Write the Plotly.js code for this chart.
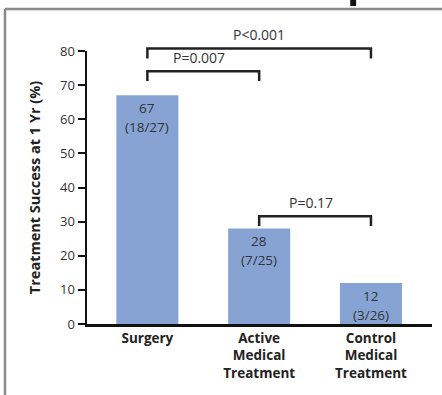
<!DOCTYPE html>
<html>
<head>
<meta charset="utf-8">
<script src="https://cdn.plot.ly/plotly-3.0.1.min.js"></script>
<style>html,body{margin:0;padding:0;background:#fff;}#chart{width:442px;height:395px;}</style>
</head>
<body>
<div id="chart"></div>
<script>
// Data
const categories = ["Surgery", "Active<br>Medical<br>Treatment", "Control<br>Medical<br>Treatment"];
const successPct = [67, 28, 12];
const fractions = ["(18/27)", "(7/25)", "(3/26)"];
const yTicks = [0, 10, 20, 30, 40, 50, 60, 70, 80];
// Comparisons: from index, to index, label, bracket level (%)
const compFrom = [0, 0, 1];
const compTo = [2, 1, 2];
const compLabels = ["P<0.001", "P=0.007", "P=0.17"];
const compLevels = [80.7, 74.1, 31.6];

const FONT = "Open Sans, Lato, DejaVu Sans, sans-serif";
const YMAX = 80;
const idx = categories.map((c, i) => i);

const trace = {
  type: "bar",
  x: idx,
  y: successPct,
  marker: { color: "rgb(135,163,211)", line: { width: 0 } },
  hoverinfo: "none"
};

const shapes = [];
const annotations = [];

// value + fraction labels inside bars
idx.forEach(i => {
  annotations.push({ x: i, y: successPct[i], xref: "x", yref: "y", text: String(successPct[i]),
    showarrow: false, yanchor: "top", yshift: -2, font: { family: FONT, size: 13.5, color: "#333" } });
  annotations.push({ x: i, y: successPct[i], xref: "x", yref: "y", text: fractions[i],
    showarrow: false, yanchor: "top", yshift: -21, font: { family: FONT, size: 13.5, color: "#333" } });
});

// brackets
const drop = 2.9;
compFrom.forEach((f, k) => {
  const t = compTo[k];
  const lv = compLevels[k];
  const path = `M ${f},${(lv - drop) / YMAX} L ${f},${lv / YMAX} L ${t},${lv / YMAX} L ${t},${(lv - drop) / YMAX}`;
  shapes.push({ type: "path", xref: "x", yref: "paper", path: path,
    line: { color: "#222", width: 2.5 } });
  annotations.push({ x: (f + t) / 2 - (k === 0 ? 0 : 0.04), y: (lv + 4) / YMAX, xref: "x", yref: "paper",
    text: compLabels[k], showarrow: false, yanchor: "middle",
    font: { family: FONT, size: 14, color: "#333" } });
});

// frame around figure (cropped panel border)
shapes.push({ type: "line", xref: "paper", yref: "paper", x0: -0.2377, x1: 1.05, y0: 1.1538, y1: 1.1538,
  line: { color: "#8a8a8a", width: 2.5 } });
shapes.push({ type: "line", xref: "paper", yref: "paper", x0: -0.2377, x1: -0.2377, y0: 1.1538, y1: -0.3,
  line: { color: "#8a8a8a", width: 2.5 } });
// cropped letter fragment at top
shapes.push({ type: "rect", xref: "paper", yref: "paper", x0: 0.763, x1: 0.780, y0: 1.165, y1: 1.2,
  fillcolor: "#111", line: { width: 0 } });

const layout = {
  width: 442,
  height: 395,
  margin: { l: 87, r: 10, t: 51, b: 71, pad: 0 },
  paper_bgcolor: "#fff",
  plot_bgcolor: "#fff",
  showlegend: false,
  bargap: 0.445,
  font: { family: FONT, color: "#333" },
  xaxis: {
    range: [-0.54, 2.546],
    tickmode: "array",
    tickvals: idx,
    ticktext: categories,
    ticks: "",
    showgrid: false,
    zeroline: false,
    showline: true,
    linecolor: "#111",
    linewidth: 2.5,
    tickfont: { family: FONT, size: 13.5, color: "#222", weight: "bold" },
    fixedrange: true
  },
  yaxis: {
    range: [0, YMAX],
    tickmode: "array",
    tickvals: yTicks,
    ticks: "outside",
    ticklen: 7,
    tickwidth: 2,
    tickcolor: "#111",
    showgrid: false,
    zeroline: false,
    showline: true,
    linecolor: "#111",
    linewidth: 2.5,
    tickfont: { family: FONT, size: 13, color: "#333" },
    title: { text: "<b>Treatment Success at 1 Yr (%)</b>", standoff: 16,
      font: { family: FONT, size: 14.5, color: "#222" } },
    fixedrange: true
  },
  shapes: shapes,
  annotations: annotations
};

Plotly.newPlot("chart", [trace], layout, { displayModeBar: false, staticPlot: true });
</script>
</body>
</html>
